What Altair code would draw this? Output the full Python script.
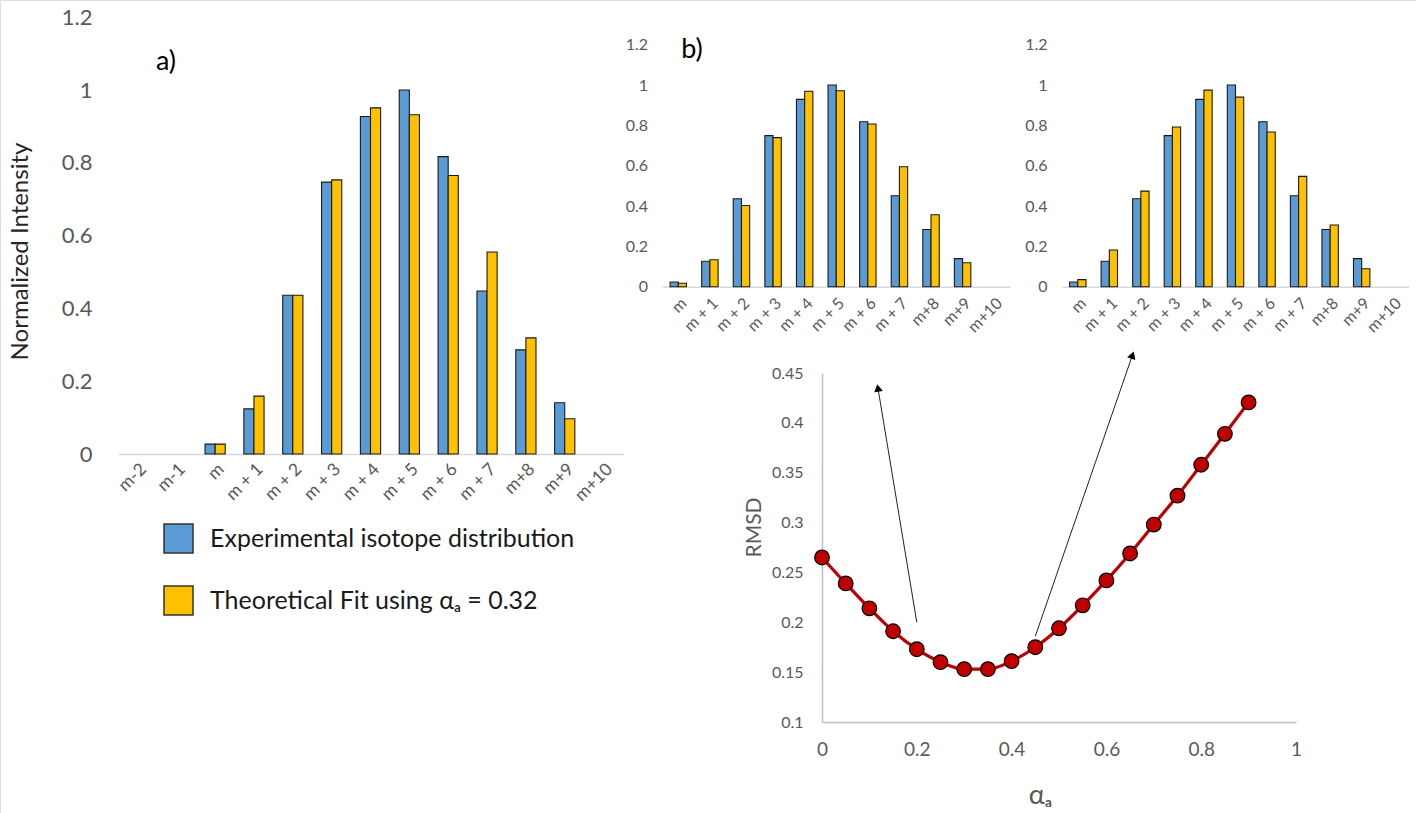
import altair as alt
import pandas as pd

# ---------------- data ----------------
SERIES = ["Experimental isotope distribution", "Theoretical Fit using \u03b1\u2090 = 0.32"]

cats_a = ["m-2", "m-1", "m", "m + 1", "m + 2", "m + 3", "m + 4", "m + 5",
          "m + 6", "m + 7", "m+8", "m+9", "m+10"]
exp_a = [0, 0, 0.027, 0.124, 0.436, 0.747, 0.927, 1.0, 0.817, 0.448, 0.286, 0.141, 0]
theo_a = [0, 0, 0.027, 0.159, 0.436, 0.753, 0.951, 0.932, 0.765, 0.555, 0.319, 0.097, 0]

cats_b = ["m", "m + 1", "m + 2", "m + 3", "m + 4", "m + 5", "m + 6", "m + 7",
          "m+8", "m+9", "m+10"]
exp_b = [0.023, 0.126, 0.436, 0.749, 0.929, 1.0, 0.818, 0.451, 0.284, 0.139, 0]
theo_b1 = [0.017, 0.134, 0.403, 0.739, 0.969, 0.972, 0.807, 0.595, 0.357, 0.119, 0]
theo_b2 = [0.035, 0.182, 0.474, 0.792, 0.975, 0.940, 0.767, 0.547, 0.306, 0.089, 0]

alpha = [0, 0.05, 0.1, 0.15, 0.2, 0.25, 0.3, 0.35, 0.4, 0.45, 0.5, 0.55,
         0.6, 0.65, 0.7, 0.75, 0.8, 0.85, 0.9]
rmsd = [0.265, 0.239, 0.214, 0.191, 0.173, 0.160, 0.153, 0.153, 0.161, 0.175,
        0.194, 0.217, 0.242, 0.269, 0.298, 0.327, 0.358, 0.389, 0.4205]

ticks_a = [0, 0.2, 0.4, 0.6, 0.8, 1, 1.2]
ticks_rmsd_y = [0.1, 0.15, 0.2, 0.25, 0.3, 0.35, 0.4, 0.45]
ticks_rmsd_x = [0, 0.2, 0.4, 0.6, 0.8, 1]

# arrows (in RMSD data coordinates)
arrow_x0 = [0.2, 0.45]
arrow_y0 = [0.2, 0.186]
arrow_x1 = [0.118, 0.655]
arrow_y1 = [0.435, 0.468]
arrow_angle = [351, 19]

W, H = 1416, 813
BLUE, ORANGE = "#5B9BD5", "#FFC000"
GRAY = "#595959"
FONT = "Lato"


def long_df(cats, exp, theo):
    rows = []
    for c, e, t in zip(cats, exp, theo):
        rows.append({"cat": c, "series": SERIES[0], "v": e})
        rows.append({"cat": c, "series": SERIES[1], "v": t})
    return pd.DataFrame(rows)


def bar_panel(df, cats, xr, yr, x_lab_size, x_lab_pad, y_lab_size, y_lab_pad,
              y_ticks, legend=None, y_title=None):
    x0, x1 = xr
    ybot, ytop = yr
    yaxis_kw = dict(
        orient="left", offset=-x0, values=y_ticks, format="~g",
        labelFontSize=y_lab_size, labelColor=GRAY, labelFont=FONT,
        domain=False, ticks=False, tickSize=0, labelPadding=y_lab_pad, grid=False,
    )
    if y_title:
        yaxis_kw.update(title=y_title, titleX=-98, titleY=251, titleFontSize=24,
                        titleFontWeight="normal", titleColor="#262626", titleFont=FONT,
                        titleBaseline="middle", titleAlign="center")
    else:
        yaxis_kw.update(title=None)
    return alt.Chart(df).transform_filter("datum.v > 0").mark_bar(
        stroke="#1a1a1a", strokeWidth=1.1
    ).encode(
        x=alt.X("cat:N", sort=cats,
                scale=alt.Scale(domain=cats, range=[x0, x1], paddingInner=0.48, paddingOuter=0.24),
                axis=alt.Axis(orient="bottom", offset=ybot - H, labelAngle=-45,
                              labelFontSize=x_lab_size, labelColor=GRAY, labelFont=FONT,
                              domainColor="#D9D9D9", domainWidth=1.5, ticks=False, tickSize=0,
                              labelPadding=x_lab_pad, title=None, grid=False)),
        xOffset=alt.XOffset("series:N", scale=alt.Scale(domain=SERIES)),
        y=alt.Y("v:Q", scale=alt.Scale(domain=[0, 1.2], range=[ybot, ytop], nice=False, zero=True),
                axis=alt.Axis(**yaxis_kw)),
        color=alt.Color("series:N", scale=alt.Scale(domain=SERIES, range=[BLUE, ORANGE]),
                        legend=legend),
    )


legend = alt.Legend(
    title=None, orient="none", legendX=163, legendY=523, symbolType="square",
    symbolSize=841, symbolStrokeColor="#333333", symbolStrokeWidth=1.5,
    labelFontSize=25, labelFont=FONT, labelColor="#1a1a1a", rowPadding=27,
    labelOffset=16, padding=0, labelLimit=600,
)

panel_a = bar_panel(long_df(cats_a, exp_a, theo_a), cats_a, (118, 623), (454, 17.2),
                    17.5, 6, 22, 26, ticks_a, legend=legend, y_title="Normalized Intensity")
panel_b1 = bar_panel(long_df(cats_b, exp_b, theo_b1), cats_b, (662.5, 1010), (286.7, 44.7),
                     16, 8, 16, 15, ticks_a)
panel_b2 = bar_panel(long_df(cats_b, exp_b, theo_b2), cats_b, (1062, 1409), (286.7, 44.7),
                     16, 8, 16, 15, ticks_a)

# ---------------- RMSD panel ----------------
rm_df = pd.DataFrame({"alpha": alpha, "rmsd": rmsd})


def xs():
    return alt.Scale(domain=[0, 1], range=[822, 1296], nice=False, zero=False)


def ys():
    return alt.Scale(domain=[0.1, 0.45], range=[722, 373], nice=False, zero=False)


line = alt.Chart(rm_df).mark_line(color="#C00000", strokeWidth=3.2, interpolate="monotone").encode(
    x=alt.X("alpha:Q", scale=xs(),
            axis=alt.Axis(orient="bottom", offset=722 - H, values=ticks_rmsd_x, format="~g",
                          labelFontSize=19, labelColor=GRAY, labelFont=FONT, labelFlush=False,
                          domainColor="#BFBFBF", domainWidth=1.5, ticks=False, tickSize=0,
                          labelPadding=18, grid=False, title="\u03b1\u2090", titleFontSize=27,
                          titleColor=GRAY, titleFontWeight="normal", titleFont=FONT,
                          titleX=1040, titleY=73, titleBaseline="middle", titleAlign="center")),
    y=alt.Y("rmsd:Q", scale=ys(),
            axis=alt.Axis(orient="left", offset=-822, values=ticks_rmsd_y, format="~g",
                          labelFontSize=16, labelColor=GRAY, labelFont=FONT,
                          domainColor="#BFBFBF", domainWidth=1.5, ticks=False, tickSize=0,
                          labelPadding=19, grid=False, title="RMSD", titleFontSize=21,
                          titleColor=GRAY, titleFontWeight="normal", titleFont=FONT,
                          titleX=-68, titleY=527, titleBaseline="middle", titleAlign="center")),
)
points = alt.Chart(rm_df).mark_circle(color="#C00000", stroke="black", strokeWidth=1.2,
                                       size=215, opacity=1).encode(
    x=alt.X("alpha:Q", scale=xs(), axis=None), y=alt.Y("rmsd:Q", scale=ys(), axis=None))

arr_df = pd.DataFrame({"x0": arrow_x0, "y0": arrow_y0, "x1": arrow_x1, "y1": arrow_y1,
                       "ang": arrow_angle})
rules = alt.Chart(arr_df).mark_rule(color="#222222", strokeWidth=1).encode(
    x=alt.X("x0:Q", scale=xs(), axis=None), y=alt.Y("y0:Q", scale=ys(), axis=None),
    x2="x1:Q", y2="y1:Q")
heads = alt.Chart(arr_df).mark_point(shape="triangle-up", filled=True, color="black",
                                      size=75, opacity=1).encode(
    x=alt.X("x1:Q", scale=xs(), axis=None), y=alt.Y("y1:Q", scale=ys(), axis=None),
    angle=alt.Angle("ang:Q", scale=None))

# panel letters
txt_a = alt.Chart(pd.DataFrame({"t": ["a)"]})).mark_text(
    fontSize=27, font=FONT, color="black", align="center", baseline="middle"
).encode(text="t:N", x=alt.value(166), y=alt.value(62))
txt_b = alt.Chart(pd.DataFrame({"t": ["b)"]})).mark_text(
    fontSize=27, font=FONT, color="black", align="center", baseline="middle"
).encode(text="t:N", x=alt.value(692), y=alt.value(50))

chart = alt.layer(panel_a, panel_b1, panel_b2, rules, heads, line, points, txt_a, txt_b).resolve_scale(
    x="independent", y="independent", xOffset="independent"
).properties(
    width=W, height=H, autosize=alt.AutoSizeParams(type="none"), padding=0
).configure_view(stroke=None).configure(font=FONT)

chart.save("out.html", embed_options={"renderer": "svg", "actions": False})
